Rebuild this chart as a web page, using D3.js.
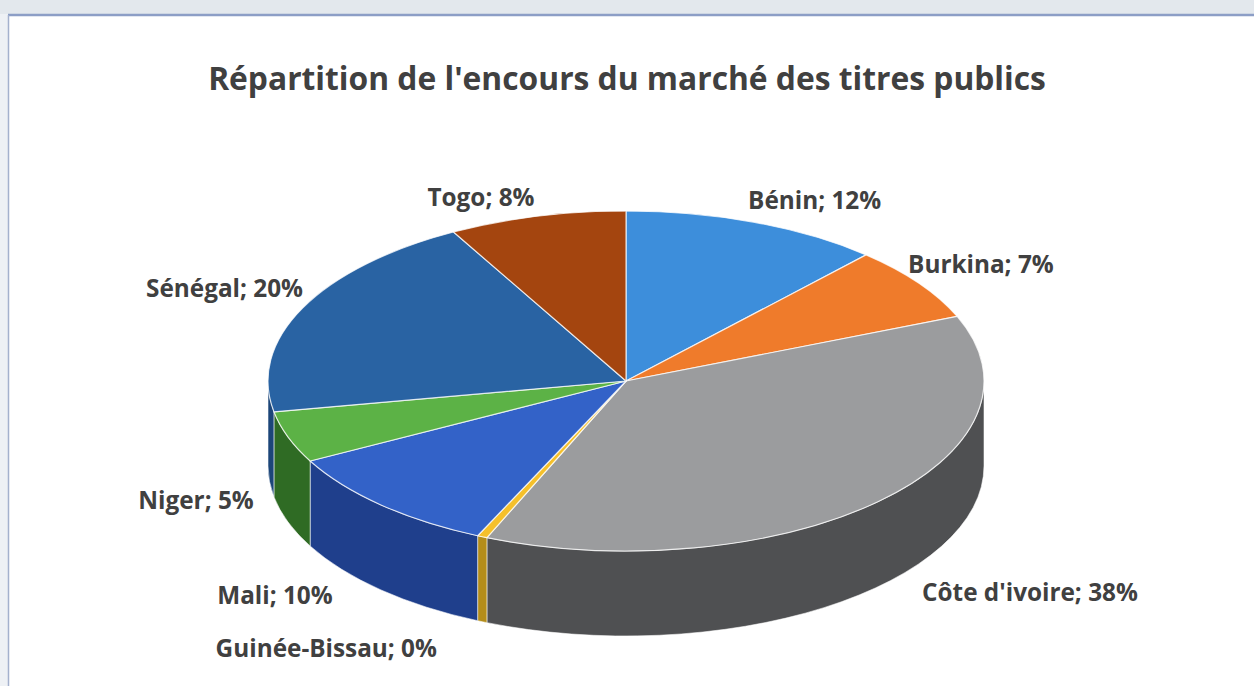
<!DOCTYPE html>
<html>
<head>
<meta charset="utf-8">
<script src="https://cdn.jsdelivr.net/npm/d3@7"></script>
<style>
  body { margin: 0; background: #fff; }
  svg { display: block; }
</style>
</head>
<body>
<script>
// data (Excel 3D pie, clockwise from 12 o'clock)
var countries = ["Bénin", "Burkina", "Côte d'ivoire", "Guinée-Bissau", "Mali", "Niger", "Sénégal", "Togo"];
var shares = [11.7, 7.1, 37.55, 0.45, 10.4, 4.9, 19.9, 8.0];
var titleText = "Répartition de l'encours du marché des titres publics";

var topColors  = ["#3d8edb", "#ef7b2b", "#9b9c9e", "#f5c02b", "#3362c8", "#5cb246", "#2963a3", "#a4450f"];
var sideColors = ["#2a6aa8", "#b85c1c", "#4f5052", "#b48d1a", "#1f3f8c", "#2f6b24", "#1c4679", "#74300a"];

// label nudges from the slice's mid point on the rim
var labelNudge = [[60, -23], [62, -20], [152, 90], [-156, 111], [-106, 90], [-92, 62], [-78, -21], [-56, -20]];

var W = 1254, H = 686;
var cx = 626, cy = 381, rx = 358, ry = 170, depth = 85;

var svg = d3.select("body").append("svg")
    .attr("width", W)
    .attr("height", H);

// window frame around the chart
svg.append("rect").attr("x", 0).attr("y", 0).attr("width", W).attr("height", 14).attr("fill", "#e3e8ed");
svg.append("rect").attr("x", 0).attr("y", 14).attr("width", 8).attr("height", H - 14).attr("fill", "#eef1f5");
svg.append("line")
    .attr("x1", 8).attr("x2", W).attr("y1", 15).attr("y2", 15)
    .style("stroke", "#8c9ec6").style("stroke-width", 2.5);
svg.append("line")
    .attr("x1", 8.5).attr("x2", 8.5).attr("y1", 15).attr("y2", H)
    .style("stroke", "#a4b1cd").style("stroke-width", 1.5);

var pie = d3.pie().sort(null).value(function(d) { return d; });
var arcs = pie(shares);

function pt(a, dy) {
    return [cx + rx * Math.sin(a), cy - ry * Math.cos(a) + (dy || 0)];
}

function topPath(d) {
    var p0 = pt(d.startAngle), p1 = pt(d.endAngle);
    var large = (d.endAngle - d.startAngle) > Math.PI ? 1 : 0;
    return "M" + cx + "," + cy + "L" + p0 + "A" + rx + "," + ry + " 0 " + large + " 1 " + p1 + "Z";
}

function sidePath(d) {
    var a0 = Math.max(d.startAngle, Math.PI / 2);
    var a1 = Math.min(d.endAngle, 3 * Math.PI / 2);
    if (a1 <= a0) return null;
    return "M" + pt(a0) + "A" + rx + "," + ry + " 0 0 1 " + pt(a1) +
        "L" + pt(a1, depth) + "A" + rx + "," + ry + " 0 0 0 " + pt(a0, depth) + "Z";
}

var g = svg.append("g");

// side walls first, top faces on top of them
g.selectAll("path.side")
    .data(arcs.filter(function(d) { return sidePath(d) !== null; }))
    .enter()
    .append("path")
    .attr("class", "side")
    .attr("d", sidePath)
    .style("fill", function(d) { return sideColors[d.index]; })
    .style("stroke", "rgba(255,255,255,0.55)")
    .style("stroke-width", 1);

g.selectAll("path.top")
    .data(arcs)
    .enter()
    .append("path")
    .attr("class", "top")
    .attr("d", topPath)
    .style("fill", function(d) { return topColors[d.index]; })
    .style("stroke", "rgba(255,255,255,0.75)")
    .style("stroke-width", 1.2)
    .style("stroke-linejoin", "round");

// title
var title = svg.append("text")
    .text(titleText)
    .attr("x", 627)
    .attr("y", 77)
    .attr("text-anchor", "middle")
    .attr("dominant-baseline", "central")
    .style("font-family", "'Open Sans', 'Noto Sans', sans-serif")
    .style("font-weight", "bold")
    .style("font-size", "26px")
    .attr("fill", "#404040");
var tw = title.node().getComputedTextLength();
title.style("font-size", (26 * 838 / tw) + "px");

// data labels
var labels = svg.selectAll("text.lbl")
    .data(arcs)
    .enter()
    .append("text")
    .attr("class", "lbl")
    .text(function(d) { return countries[d.index] + "; " + Math.round(d.data) + "%"; })
    .attr("x", function(d) {
        var m = (d.startAngle + d.endAngle) / 2;
        return pt(m)[0] + labelNudge[d.index][0];
    })
    .attr("y", function(d) {
        var m = (d.startAngle + d.endAngle) / 2;
        return pt(m)[1] + labelNudge[d.index][1];
    })
    .attr("text-anchor", "middle")
    .attr("dominant-baseline", "central")
    .style("font-family", "'Open Sans', 'Noto Sans', sans-serif")
    .style("font-weight", "bold")
    .style("font-size", "20px")
    .attr("fill", "#404040");

// size labels so that the Côte d'ivoire label spans what it does in the picture
var lw = labels.filter(function(d) { return d.index === 2; }).node().getComputedTextLength();
labels.style("font-size", (20 * 216 / lw) + "px");
</script>
</body>
</html>
